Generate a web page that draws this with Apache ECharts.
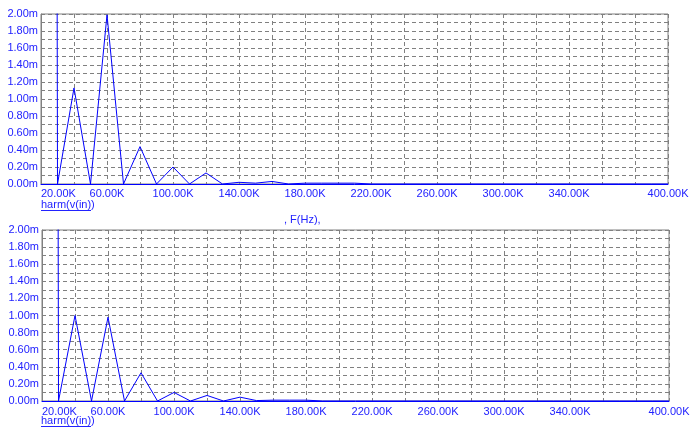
<!DOCTYPE html>
<html>
<head>
<meta charset="utf-8">
<script src="https://cdn.jsdelivr.net/npm/echarts@6/dist/echarts.min.js"></script>
<style>
html,body{margin:0;padding:0;background:#fff;}
#chart{width:700px;height:430px;}
</style>
</head>
<body>
<div id="chart"></div>
<script>
// Frequencies in kHz
var freqK = [20,30,40,50,60,70,80,90,100,110,120,130,140,150,160,170,180,190,200,210,220,230,240,250,260,270,280,290,300,310,320,330,340,350,360,370,380,390,400];
// Top plot: harm(v(in)) in mV
var topValues = [100,0,1.13,0,1.99,0,0.44,0,0.2,0,0.13,0,0.02,0.01,0.03,0,0.01,0.01,0.01,0.01,0,0,0,0,0,0,0,0,0,0,0,0,0,0,0,0,0,0,0];
// Bottom plot: harm(v(in)) in mV
var bottomValues = [100,0,1.0,0,0.98,0,0.33,0,0.1,0,0.065,0,0.045,0.005,0.01,0.01,0.01,0,0,0,0,0,0,0,0,0,0,0,0,0,0,0,0,0,0,0,0,0,0];
var xLabelValues = [20,60,100,140,180,220,260,300,340,400];
var seriesName = 'harm(v(in))';
var xTitle = ', F(Hz),';

var FONT = '"Liberation Sans", Arial, sans-serif';
var BLUE = '#0000ff';
var LABEL = '#2222ff';
var GRAY = '#808080';

function pairs(vals){ return freqK.map(function(f,i){ return [f, vals[i]]; }); }

function xAxis(gi, margin){
  return {
    type:'value', gridIndex:gi, min:20, max:400, interval:20,
    axisLine:{show:true, lineStyle:{color:BLUE, width:1}},
    axisTick:{show:false},
    splitLine:{show:true, lineStyle:{color:GRAY, type:[4,3], width:1}},
    axisLabel:{
      show:true, margin:margin, color:LABEL, fontFamily:FONT, fontSize:11,
      alignMinLabel:'left', showMinLabel:true, showMaxLabel:true,
      formatter:function(v){
        return xLabelValues.indexOf(Math.round(v))>=0 ? Math.round(v).toFixed(2)+'K' : '';
      }
    }
  };
}
function yAxis(gi){
  return {
    type:'value', gridIndex:gi, min:0, max:2, interval:0.1,
    axisLine:{show:true, lineStyle:{color:GRAY, width:1}},
    axisTick:{show:false},
    splitLine:{show:true, lineStyle:{color:GRAY, type:[4,3], width:1}},
    axisLabel:{
      show:true, margin:3, color:LABEL, fontFamily:FONT, fontSize:11,
      formatter:function(v){
        var k = Math.round(v*10);
        return k%2===0 ? (k/10).toFixed(2)+'m' : '';
      }
    }
  };
}

var chart = echarts.init(document.getElementById('chart'), null, {renderer:'canvas'});
chart.setOption({
  animation:false,
  backgroundColor:'#fff',
  grid:[
    {left:41, right:32, top:14, height:170, show:true, borderColor:GRAY, borderWidth:1, containLabel:false},
    {left:42, right:31, top:230, height:171, show:true, borderColor:GRAY, borderWidth:1, containLabel:false}
  ],
  xAxis:[xAxis(0,4), xAxis(1,5)],
  yAxis:[yAxis(0), yAxis(1)],
  series:[
    {type:'line', name:seriesName, xAxisIndex:0, yAxisIndex:0, data:pairs(topValues), symbol:'none', clip:true,
     lineStyle:{color:BLUE, width:1}, z:5},
    {type:'line', name:seriesName, xAxisIndex:1, yAxisIndex:1, data:pairs(bottomValues), symbol:'none', clip:true,
     lineStyle:{color:BLUE, width:1}, z:5}
  ],
  graphic:[
    {type:'text', left:41, top:199, style:{text:seriesName, fill:LABEL, font:'11px '+FONT}},
    {type:'line', shape:{x1:41, y1:210.5, x2:91, y2:210.5}, style:{stroke:LABEL, lineWidth:1}},
    {type:'text', left:284, top:214, style:{text:xTitle, fill:LABEL, font:'11px '+FONT}},
    {type:'text', left:41, top:415, style:{text:seriesName, fill:LABEL, font:'11px '+FONT}},
    {type:'line', shape:{x1:41, y1:426.5, x2:91, y2:426.5}, style:{stroke:LABEL, lineWidth:1}}
  ]
});
</script>
</body>
</html>
